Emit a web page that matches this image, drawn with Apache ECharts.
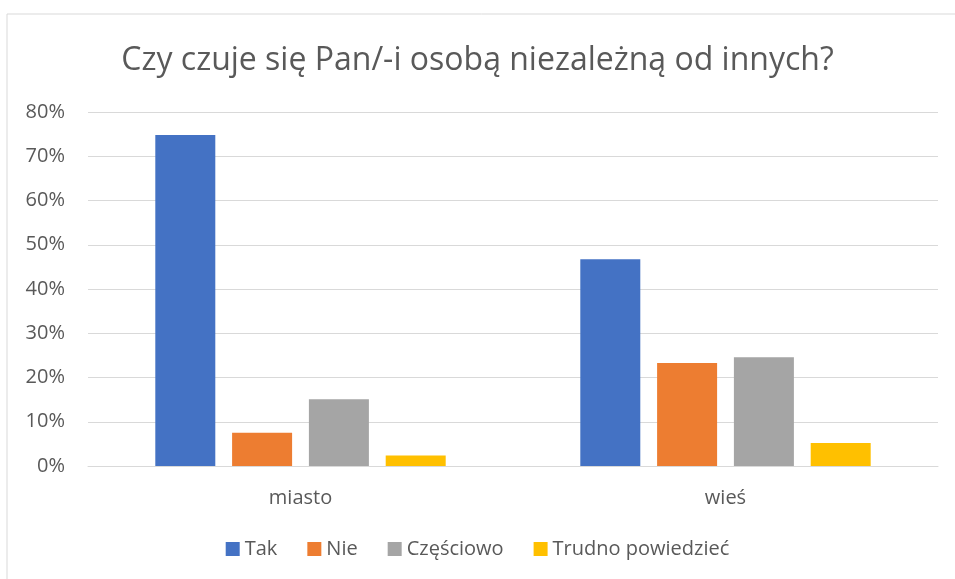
<!DOCTYPE html>
<html>
<head>
<meta charset="utf-8">
<script src="https://cdn.jsdelivr.net/npm/echarts@6/dist/echarts.min.js"></script>
<style>
  html, body { margin: 0; padding: 0; background: #fff; }
  #chart { width: 955px; height: 579px; }
</style>
</head>
<body>
<div id="chart"></div>
<script>
var categories = ['miasto', 'wieś'];
var seriesNames = ['Tak', 'Nie', 'Częściowo', 'Trudno powiedzieć'];
var tak = [74.8, 46.7];
var nie = [7.5, 23.3];
var czesciowo = [15.1, 24.6];
var trudno = [2.4, 5.2];
var colors = ['#4472c4', '#ed7d31', '#a5a5a5', '#ffc000'];

var chart = echarts.init(document.getElementById('chart'));
var font = '"Open Sans", sans-serif';
var values = [tak, nie, czesciowo, trudno];

var option = {
    color: colors,
    graphic: [{
        type: 'rect',
        shape: { x: 7, y: 14, width: 980, height: 600 },
        style: { fill: 'none', stroke: '#d9d9d9', lineWidth: 1 },
        silent: true
    }],
    title: {
        text: 'Czy czuje się Pan/-i osobą niezależną od innych?',
        left: 'center',
        top: 40,
        textStyle: { fontFamily: font, fontSize: 32, fontWeight: 'normal', color: '#595959' }
    },
    legend: {
        data: seriesNames,
        bottom: 15,
        left: 'center',
        icon: 'rect',
        itemWidth: 14,
        itemHeight: 14,
        itemGap: 30,
        textStyle: { fontFamily: font, fontSize: 20, color: '#595959' }
    },
    grid: { left: 88, right: 17, top: 112, bottom: 113 },
    xAxis: {
        type: 'category',
        data: categories,
        axisLine: { lineStyle: { color: '#d9d9d9' } },
        axisTick: { show: false },
        axisLabel: { fontFamily: font, fontSize: 20, color: '#595959', margin: 22 }
    },
    yAxis: {
        type: 'value',
        min: 0,
        max: 80,
        interval: 10,
        axisLabel: { formatter: '{value}%', fontFamily: font, fontSize: 20, color: '#595959', margin: 23 },
        splitLine: { lineStyle: { color: '#d9d9d9' } }
    },
    series: seriesNames.map(function (name, i) {
        return {
            name: name,
            type: 'bar',
            data: values[i],
            barWidth: 60,
            barGap: '28%'
        };
    })
};

chart.setOption(option);
</script>
</body>
</html>
